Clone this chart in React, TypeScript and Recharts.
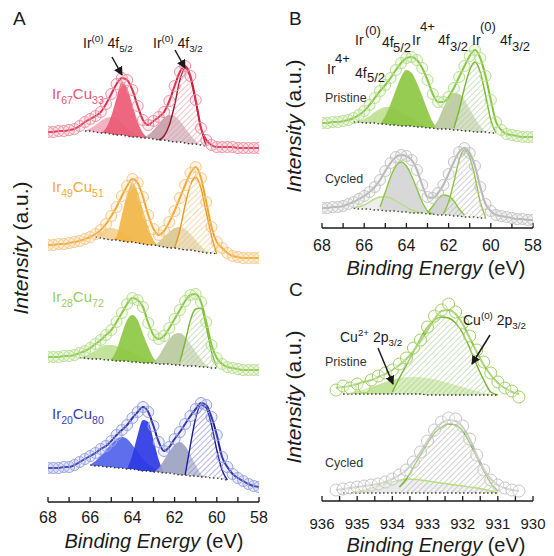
import React from "react";
import { Area, ComposedChart, Line, XAxis, YAxis } from "recharts";

const FONT = "'Liberation Sans', Arial, Helvetica, sans-serif";
const INK = "#1a1a1a";

// sampling of the measured spectra (binding energy, eV)
const IR_E = Array.from({ length: 41 }, (_, i) => 68 - i * 0.25);
const CU_E = Array.from({ length: 27 }, (_, i) => Math.round((935.6 - i * 0.2) * 10) / 10);
const IR_TICKS = [68, 67, 66, 65, 64, 63, 62, 61, 60, 59, 58];
const CU_TICKS = [936, 935.5, 935, 934.5, 934, 933.5, 933, 932.5, 932, 931.5, 931, 930.5, 930];

type Pair = [number, number];

// ---- panel A: Ir67Cu33 ----
const A1_COUNTS = [18, 18, 19, 19, 20, 21, 24, 28, 31, 34, 38, 46, 56, 66, 72, 70, 60, 44, 30, 25, 29, 33, 38, 49, 64, 78, 84, 74, 50, 22, 10, 5, 3, 3, 3, 3, 2, 2, 2, 2, 2];
const A1_BG = [19, 19, 18, 17, 17, 16, 15, 15, 14, 13, 13, 12, 12, 11, 10, 10, 9, 8, 8, 7, 6, 6, 5, 4]; // 66.25 -> 60.5
const A1_IR4_52: Pair[] = [[66.25, 19], [65.75, 25], [65.5, 29], [65.25, 32], [65, 33], [64.75, 31], [64.5, 27], [64.25, 22], [64, 17], [63.75, 14], [63.5, 12]];
const A1_IR0_52: Pair[] = [[65.5, 17], [65.25, 22], [65, 34], [64.75, 52], [64.5, 68], [64.25, 62], [64, 45], [63.75, 28], [63.5, 17], [63.25, 12]];
const A1_IR4_32: Pair[] = [[63.5, 12], [63.25, 15], [63, 20], [62.75, 26], [62.5, 32], [62.25, 35], [62, 34], [61.75, 29], [61.5, 22], [61.25, 15], [61, 9], [60.75, 5]];
const A1_IR0_32: Pair[] = [[62.75, 10], [62.5, 14], [62.25, 25], [62, 45], [61.75, 70], [61.5, 82], [61.25, 72], [61, 48], [60.75, 22], [60.5, 4]];

// ---- panel A: Ir49Cu51 ----
const A2_COUNTS = [15, 15, 16, 16, 17, 18, 19, 21, 23, 26, 30, 36, 44, 53, 64, 74, 81, 77, 63, 45, 31, 25, 29, 38, 49, 62, 75, 87, 93, 82, 58, 33, 18, 12, 7, 4, 3, 2, 2, 2, 2];
const A2_BG = [23, 22, 21, 20, 20, 19, 18, 18, 17, 16, 15, 15, 14, 13, 12, 12, 11, 10, 10, 9, 8, 7, 7, 6]; // 65.75 -> 60
const A2_IR4_52: Pair[] = [[65.75, 23], [65.5, 28], [65.25, 31], [65, 32], [64.75, 31], [64.5, 28], [64.25, 25], [64, 22], [63.75, 19], [63.5, 16]];
const A2_IR0_52: Pair[] = [[65, 20], [64.75, 24], [64.5, 45], [64.25, 66], [64, 77], [63.75, 68], [63.5, 50], [63.25, 33], [63, 20], [62.75, 14]];
const A2_IR4_32: Pair[] = [[63, 15], [62.75, 18], [62.5, 23], [62.25, 28], [62, 32], [61.75, 33], [61.5, 31], [61.25, 26], [61, 20], [60.75, 14], [60.5, 9], [60.25, 7]];
const A2_IR0_32: Pair[] = [[62, 12], [61.75, 30], [61.5, 55], [61.25, 75], [61, 83], [60.75, 72], [60.5, 48], [60.25, 24], [60, 6]];

// ---- panel A: Ir28Cu72 ----
const A3_COUNTS = [15, 15, 15, 16, 16, 17, 19, 21, 24, 28, 32, 37, 42, 50, 59, 68, 74, 72, 65, 49, 37, 33, 36, 44, 53, 62, 71, 77, 78, 70, 50, 27, 14, 8, 5, 4, 3, 2, 2, 2, 2];
const A3_BG = [14, 14, 13, 13, 13, 12, 12, 11, 11, 11, 10, 10, 9, 9, 9, 8, 8, 8, 7, 7, 6, 6, 6, 5, 5, 4, 4]; // 66.5 -> 60
const A3_IR4_52: Pair[] = [[66.5, 14], [66, 18], [65.75, 21], [65.5, 25], [65.25, 27], [65, 27], [64.75, 26], [64.5, 24], [64.25, 22], [64, 20], [63.75, 17], [63.5, 14], [63.25, 12], [63, 9]];
const A3_IR0_52: Pair[] = [[65, 13], [64.75, 22], [64.5, 38], [64.25, 52], [64, 57], [63.75, 52], [63.5, 38], [63.25, 25], [63, 14], [62.75, 9]];
const A3_IR4_32: Pair[] = [[63, 10], [62.75, 16], [62.5, 25], [62.25, 33], [62, 38], [61.75, 39], [61.5, 35], [61.25, 28], [61, 20], [60.75, 13], [60.5, 7], [60.25, 4]];
const A3_IR0_32: Pair[] = [[61.75, 10], [61.5, 30], [61.25, 52], [61, 63], [60.75, 64], [60.5, 45], [60.25, 20], [60, 5]];

// ---- panel A: Ir20Cu80 ----
const A4_COUNTS = [22, 22, 22, 23, 23, 25, 28, 31, 34, 37, 41, 44, 49, 55, 60, 65, 72, 78, 83, 78, 64, 48, 39, 43, 51, 58, 66, 74, 81, 87, 85, 73, 55, 33, 23, 16, 12, 9, 6, 4, 3];
const A4_BG = [25, 24, 24, 23, 23, 22, 22, 21, 21, 20, 19, 19, 18, 18, 17, 17, 16, 15, 15, 14, 14, 13, 13, 12, 12, 11, 10]; // 66 -> 59.5
const A4_IR4_52: Pair[] = [[66, 25], [65.75, 29], [65.5, 34], [65.25, 40], [65, 46], [64.75, 51], [64.5, 53], [64.25, 51], [64, 45], [63.75, 38], [63.5, 31], [63.25, 26], [63, 22], [62.75, 19]];
const A4_IR0_52: Pair[] = [[64.25, 21], [64, 35], [63.75, 55], [63.5, 70], [63.25, 68], [63, 50], [62.75, 30], [62.5, 18]];
const A4_IR4_32: Pair[] = [[63, 18], [62.75, 22], [62.5, 30], [62.25, 38], [62, 45], [61.75, 48], [61.5, 44], [61.25, 35], [61, 25], [60.75, 16], [60.5, 13]];
const A4_IR0_32: Pair[] = [[61.5, 15], [61.25, 45], [61, 72], [60.75, 85], [60.5, 82], [60.25, 65], [60, 40], [59.75, 20], [59.5, 10]];

// ---- panel B: Ir 4f pristine / cycled ----
const B1_COUNTS = [17, 17, 18, 18, 19, 20, 22, 25, 29, 35, 42, 49, 55, 62, 70, 77, 82, 83, 80, 72, 60, 46, 38, 38, 43, 52, 63, 74, 84, 90, 82, 64, 40, 18, 10, 6, 5, 4, 3, 3, 3];
const B1_BG = [18, 18, 17, 17, 17, 16, 16, 15, 15, 14, 14, 14, 13, 13, 12, 12, 11, 11, 11, 10, 10, 9, 9, 8, 8, 8, 7, 7]; // 66.5 -> 59.75
const B1_IR4_52: Pair[] = [[66.5, 18], [66, 21], [65.75, 24], [65.5, 28], [65.25, 31], [65, 33], [64.75, 33], [64.5, 31], [64.25, 28], [64, 25], [63.75, 22], [63.5, 19], [63.25, 16], [63, 13], [62.75, 12]];
const B1_IR0_52: Pair[] = [[65.25, 16], [65, 24], [64.75, 36], [64.5, 50], [64.25, 63], [64, 70], [63.75, 67], [63.5, 57], [63.25, 44], [63, 30], [62.75, 18], [62.5, 11]];
const B1_IR4_32: Pair[] = [[62.75, 12], [62.5, 20], [62.25, 32], [62, 42], [61.75, 47], [61.5, 46], [61.25, 40], [61, 31], [60.75, 22], [60.5, 14], [60.25, 8]];
const B1_IR0_32: Pair[] = [[61.75, 12], [61.5, 30], [61.25, 52], [61, 70], [60.75, 78], [60.5, 68], [60.25, 45], [60, 20], [59.75, 7]];

const B2_COUNTS = [14, 14, 15, 15, 16, 18, 20, 23, 26, 30, 35, 42, 51, 59, 65, 67, 66, 62, 52, 37, 25, 24, 29, 37, 48, 60, 70, 74, 69, 56, 35, 18, 11, 7, 6, 5, 4, 3, 3, 2, 2];
const B2_BG = [14, 13, 13, 13, 12, 12, 11, 11, 11, 10, 10, 9, 9, 9, 8, 8, 7, 7, 7, 6, 6, 5, 5, 5, 4, 4]; // 66.5 -> 60.25
const B2_IR4_52: Pair[] = [[66.5, 14], [66, 17], [65.75, 20], [65.5, 23], [65.25, 25], [65, 25], [64.75, 24], [64.5, 21], [64.25, 18], [64, 15], [63.75, 12], [63.5, 10], [63.25, 9]];
const B2_IR0_52: Pair[] = [[65.25, 15], [65, 30], [64.75, 45], [64.5, 56], [64.25, 60], [64, 56], [63.75, 46], [63.5, 33], [63.25, 20], [63, 11], [62.75, 8]];
const B2_IR4_32: Pair[] = [[63, 9], [62.75, 16], [62.5, 23], [62.25, 27], [62, 26], [61.75, 21], [61.5, 13], [61.25, 7]];
const B2_IR0_32: Pair[] = [[62.25, 8], [62, 20], [61.75, 40], [61.5, 62], [61.25, 72], [61, 65], [60.75, 45], [60.5, 20], [60.25, 5]];

// ---- panel C: Cu 2p3/2 pristine / cycled ----
const C1_COUNTS = [10, 14, 12, 16, 13, 20, 24, 27, 30, 36, 42, 52, 60, 73, 84, 90, 96, 88, 77, 64, 50, 38, 27, 18, 12, 9, 3];
const C1_FIT = [12, 13, 14, 16, 18, 20, 23, 26, 30, 35, 41, 49, 59, 70, 81, 89, 90, 86, 76, 62, 48, 35, 25, 17, 12, 8, 6];
const C1_BG = [6, 6, 6, 6, 6, 6, 6, 6, 6, 6, 6, 6, 5, 5, 5, 5, 5, 5, 5, 5, 5, 5, 5]; // 935.4 -> 931
const C1_CU2: Pair[] = [[935.4, 6], [935, 9], [934.6, 13], [934.2, 18], [933.8, 22], [933.4, 23], [933, 22], [932.6, 19], [932.2, 15], [931.8, 11], [931.4, 7], [931, 5]];
const C1_CU0: Pair[] = [[934, 8], [933.8, 22], [933.6, 35], [933.4, 48], [933.2, 62], [933, 73], [932.8, 80], [932.6, 83], [932.4, 82], [932.2, 77], [932, 67], [931.8, 52], [931.6, 35], [931.4, 20], [931.2, 8], [931, 5]];

const C2_COUNTS = [5, 6, 7, 8, 9, 10, 11, 13, 16, 20, 25, 33, 43, 54, 65, 73, 77, 76, 69, 56, 40, 25, 15, 10, 7, 5, 4];
const C2_FIT = [5, 6, 7, 8, 9, 10, 11, 13, 16, 20, 25, 33, 43, 54, 65, 72, 75, 74, 68, 56, 40, 26, 16, 10, 7, 5, 4];
const C2_BG = [2, 2, 2, 2, 2, 2, 2, 2, 2, 2, 2, 2, 2, 2, 2, 2, 2, 2, 2, 2, 2, 2, 2]; // 935.4 -> 931
const C2_CU2: Pair[] = [[935.2, 2], [934.8, 5], [934.4, 9], [934, 13], [933.6, 16], [933.2, 15], [932.8, 13], [932.4, 11], [932, 9], [931.6, 7], [931.2, 4], [931, 2]];
const C2_CU0: Pair[] = [[933.8, 8], [933.6, 16], [933.4, 28], [933.2, 40], [933, 52], [932.8, 62], [932.6, 68], [932.4, 71], [932.2, 70], [932, 64], [931.8, 52], [931.6, 38], [931.4, 24], [931.2, 12], [931, 4]];

interface Comp {
  pts: Pair[];
  fill: string;
  opacity?: number;
  outline?: string;
}

interface Spec {
  e: number[];
  counts: number[];
  fit?: number[];
  bgFrom: number;
  bgStep: number;
  bg: number[];
  comps: Comp[];
  off: number;
  dot: string;
  dotFill: string;
  r: number;
  line: string;
  bgColor: string;
}

const r2 = (n: number) => Math.round(n * 100) / 100;

function seriesFor(s: Spec, key: string) {
  const bg = s.bg.map((v, i) => ({ e: r2(s.bgFrom - i * s.bgStep), v: v + s.off }));
  const bgAt = (e: number) =>
    bg.reduce((b, p) => (Math.abs(p.e - e) < Math.abs(b.e - e) ? p : b)).v;
  const items: React.ReactElement[] = [];
  s.comps.forEach((c, k) => {
    const data = c.pts.map(([e, top]) => ({ e, v: top + s.off, range: [bgAt(e), top + s.off] }));
    items.push(
      <Area
        key={`${key}-a${k}`}
        data={data}
        dataKey="range"
        type="monotone"
        fill={c.fill}
        fillOpacity={c.opacity ?? 0.9}
        stroke="none"
        activeDot={false}
        isAnimationActive={false}
      />
    );
    if (c.outline) {
      items.push(
        <Line
          key={`${key}-o${k}`}
          data={data}
          dataKey="v"
          type="monotone"
          stroke={c.outline}
          strokeWidth={1.4}
          dot={false}
          activeDot={false}
          isAnimationActive={false}
        />
      );
    }
  });
  items.push(
    <Line
      key={`${key}-bg`}
      data={bg}
      dataKey="v"
      type="linear"
      stroke={s.bgColor}
      strokeWidth={1.3}
      strokeDasharray="1.5 2.5"
      dot={false}
      activeDot={false}
      isAnimationActive={false}
    />
  );
  const pts = s.counts.map((v, i) => ({ e: s.e[i], v: v + s.off }));
  items.push(
    <Line
      key={`${key}-pts`}
      data={pts}
      dataKey="v"
      stroke="none"
      dot={{ r: s.r, stroke: s.dot, strokeWidth: 1, fill: s.dotFill }}
      activeDot={false}
      isAnimationActive={false}
    />
  );
  const fit = (s.fit ?? s.counts).map((v, i) => ({ e: s.e[i], v: v + s.off }));
  items.push(
    <Line
      key={`${key}-fit`}
      data={fit}
      dataKey="v"
      type="monotone"
      stroke={s.line}
      strokeWidth={2}
      dot={false}
      activeDot={false}
      isAnimationActive={false}
    />
  );
  return items;
}

const irSpec = (
  counts: number[],
  bgFrom: number,
  bg: number[],
  comps: Pair[][],
  off: number,
  col: { dot: string; dotFill: string; line: string; fills: string[]; hatch: string; outline: string }
): Spec => ({
  e: IR_E,
  counts,
  bgFrom,
  bgStep: 0.25,
  bg,
  off,
  r: 5.5,
  dot: col.dot,
  dotFill: col.dotFill,
  line: col.line,
  bgColor: "#333",
  comps: [
    { pts: comps[0], fill: col.fills[0], opacity: 0.95 },
    { pts: comps[1], fill: col.fills[1], opacity: 0.92 },
    { pts: comps[2], fill: col.fills[2], opacity: 0.9 },
    { pts: comps[3], fill: col.hatch, opacity: 1, outline: col.outline },
  ],
});

const RED = { dot: "#ef93a4", dotFill: "rgba(244,160,178,0.18)", line: "#d11f3e", fills: ["#f4aebd", "#ea5a74", "#c49ca7"], hatch: "url(#hatchRed)", outline: "#a3142c" };
const ORANGE = { dot: "#f7c98a", dotFill: "rgba(248,200,130,0.18)", line: "#f0a52a", fills: ["#f5d398", "#f2b545", "#d8c78f"], hatch: "url(#hatchOrange)", outline: "#eb9a1c" };
const GREEN = { dot: "#b9df94", dotFill: "rgba(190,225,150,0.18)", line: "#82c235", fills: ["#c0e297", "#8dc843", "#b9c99e"], hatch: "url(#hatchGreen)", outline: "#79b82f" };
const BLUE = { dot: "#9aa2e6", dotFill: "rgba(160,168,232,0.2)", line: "#1c1c9a", fills: ["#5566ec", "#2b3ae4", "#9aa0bf"], hatch: "url(#hatchBlue)", outline: "#1c1c9a" };

const PANEL_A: Spec[] = [
  irSpec(A1_COUNTS, 66.25, A1_BG, [A1_IR4_52, A1_IR0_52, A1_IR4_32, A1_IR0_32], 352, RED),
  irSpec(A2_COUNTS, 65.75, A2_BG, [A2_IR4_52, A2_IR0_52, A2_IR4_32, A2_IR0_32], 242, ORANGE),
  irSpec(A3_COUNTS, 66.5, A3_BG, [A3_IR4_52, A3_IR0_52, A3_IR4_32, A3_IR0_32], 130, GREEN),
  irSpec(A4_COUNTS, 66, A4_BG, [A4_IR4_52, A4_IR0_52, A4_IR4_32, A4_IR0_32], 12, BLUE),
];

const GL = "#8cc63f";
const PANEL_B: Spec[] = [
  irSpec(B1_COUNTS, 66.5, B1_BG, [B1_IR4_52, B1_IR0_52, B1_IR4_32, B1_IR0_32], 88, GREEN),
  {
    e: IR_E,
    counts: B2_COUNTS,
    bgFrom: 66.5,
    bgStep: 0.25,
    bg: B2_BG,
    off: 6,
    r: 5.5,
    dot: "#c6c6c6",
    dotFill: "rgba(200,200,200,0.15)",
    line: "#b5b5b5",
    bgColor: "#3d4a30",
    comps: [
      { pts: B2_IR4_52, fill: "#ececec", opacity: 0.9, outline: "#b6dd86" },
      { pts: B2_IR0_52, fill: "#d4d4d4", opacity: 0.9, outline: GL },
      { pts: B2_IR4_32, fill: "#cfcfcf", opacity: 0.9, outline: GL },
      { pts: B2_IR0_32, fill: "url(#hatchGray)", opacity: 1, outline: GL },
    ],
  },
];

const PANEL_C: Spec[] = [
  {
    e: CU_E,
    counts: C1_COUNTS,
    fit: C1_FIT,
    bgFrom: 935.4,
    bgStep: 0.2,
    bg: C1_BG,
    off: 101,
    r: 6,
    dot: "#9fd162",
    dotFill: "rgba(255,255,255,0.3)",
    line: "#86c43a",
    bgColor: "#333",
    comps: [
      { pts: C1_CU2, fill: "#c2e396", opacity: 0.95 },
      { pts: C1_CU0, fill: "url(#hatchGreen)", opacity: 1, outline: "#76b52c" },
    ],
  },
  {
    e: CU_E,
    counts: C2_COUNTS,
    fit: C2_FIT,
    bgFrom: 935.4,
    bgStep: 0.2,
    bg: C2_BG,
    off: 6,
    r: 6,
    dot: "#c6c6c6",
    dotFill: "rgba(255,255,255,0.3)",
    line: "#b8b8b8",
    bgColor: "#333",
    comps: [
      { pts: C2_CU2, fill: "#e6e6e6", opacity: 0.9, outline: "#b6e07a" },
      { pts: C2_CU0, fill: "url(#hatchGray)", opacity: 1, outline: "#7cb82f" },
    ],
  },
];

interface PanelProps {
  left: number;
  top: number;
  width: number;
  height: number;
  margin: { top: number; right: number; bottom: number; left: number };
  domain: [number, number];
  ticks: number[];
  isLabel: (v: number) => boolean;
  axisH: number;
  tickMargin: number;
  tickFont: number;
  yMax: number;
  specs: Spec[];
  name: string;
}

function Panel(p: PanelProps) {
  const axisLine = { stroke: INK, strokeWidth: 1.6 };
  const tickLine = { stroke: INK, strokeWidth: 1.3 };
  return (
    <div style={{ position: "absolute", left: p.left, top: p.top }}>
      <ComposedChart width={p.width} height={p.height} margin={p.margin}>
        <XAxis
          type="number"
          dataKey="e"
          domain={p.domain}
          reversed
          allowDataOverflow
          ticks={p.ticks}
          interval={0}
          tickFormatter={(v: number) => (p.isLabel(v) ? String(v) : "")}
          tickSize={-5}
          tickMargin={p.tickMargin}
          height={p.axisH}
          axisLine={axisLine}
          tickLine={tickLine}
          tick={{ fill: INK, fontSize: p.tickFont, fontFamily: FONT }}
        />
        <XAxis
          xAxisId="t"
          orientation="top"
          type="number"
          domain={p.domain}
          reversed
          allowDataOverflow
          ticks={p.ticks}
          interval={0}
          tickFormatter={() => ""}
          tickSize={-5}
          height={0}
          axisLine={axisLine}
          tickLine={tickLine}
        />
        <YAxis type="number" domain={[0, p.yMax]} allowDataOverflow width={0} tick={false} tickLine={false} axisLine={axisLine} />
        <YAxis
          yAxisId="r"
          orientation="right"
          type="number"
          domain={[0, p.yMax]}
          width={0}
          tick={false}
          tickLine={false}
          axisLine={axisLine}
        />
        {p.specs.flatMap((s, i) => seriesFor(s, `${p.name}${i}`))}
      </ComposedChart>
    </div>
  );
}

type Part = [string, "n" | "sub" | "sup"];

function Rich({ x, y, size, fill = INK, parts }: { x: number; y: number; size: number; fill?: string; parts: Part[] }) {
  let shift = 0;
  return (
    <text x={x} y={y} fontSize={size} fill={fill} fontFamily={FONT}>
      {parts.map(([s, k], i) => {
        const target = k === "sub" ? size * 0.3 : k === "sup" ? -size * 0.45 : 0;
        const dy = target - shift;
        shift = target;
        return (
          <tspan key={i} dy={dy} fontSize={k === "n" ? size : size * 0.7}>
            {s}
          </tspan>
        );
      })}
    </text>
  );
}

function Plain({ x, y, size, children, fill = INK }: { x: number; y: number; size: number; children: React.ReactNode; fill?: string }) {
  return (
    <text x={x} y={y} fontSize={size} fill={fill} fontFamily={FONT}>
      {children}
    </text>
  );
}

function AxisTitle({ x, y }: { x: number; y: number }) {
  return (
    <text x={x} y={y} fontSize={20} fill={INK} fontFamily={FONT} textAnchor="middle">
      <tspan fontStyle="italic">Binding Energy</tspan> (eV)
    </text>
  );
}

function YTitle({ x, y }: { x: number; y: number }) {
  return (
    <text transform={`translate(${x},${y}) rotate(-90)`} fontSize={21} fill={INK} fontFamily={FONT} textAnchor="middle">
      <tspan fontStyle="italic">Intensity</tspan> (a.u.)
    </text>
  );
}

function Arrow({ x1, y1, x2, y2 }: { x1: number; y1: number; x2: number; y2: number }) {
  return <line x1={x1} y1={y1} x2={x2} y2={y2} stroke={INK} strokeWidth={1.5} markerEnd="url(#arrowHead)" />;
}

function Hatch({ id, color }: { id: string; color: string }) {
  return (
    <pattern id={id} patternUnits="userSpaceOnUse" width={4} height={4} patternTransform="rotate(45)">
      <rect width={4} height={4} fill="rgba(255,255,255,0.35)" />
      <line x1={0} y1={0} x2={0} y2={4} stroke={color} strokeWidth={1.1} />
    </pattern>
  );
}

export default function App() {
  const even = (v: number) => v % 2 === 0;
  const whole = (v: number) => Number.isInteger(v);
  return (
    <div style={{ position: "absolute", left: 0, top: 0, width: 554, height: 556, background: "#fff", overflow: "hidden" }}>
      <svg width={0} height={0} style={{ position: "absolute" }}>
        <defs>
          <Hatch id="hatchRed" color="#e3909f" />
          <Hatch id="hatchOrange" color="#efbd6a" />
          <Hatch id="hatchGreen" color="#a3c98a" />
          <Hatch id="hatchBlue" color="#7076c6" />
          <Hatch id="hatchGray" color="#a9a9a9" />
          <marker id="arrowHead" markerUnits="userSpaceOnUse" markerWidth={9} markerHeight={9} refX={8} refY={4.5} orient="auto">
            <path d="M0,0 L9,4.5 L0,9 z" fill={INK} />
          </marker>
        </defs>
      </svg>

      <Panel
        name="a"
        left={0}
        top={0}
        width={270}
        height={556}
        margin={{ top: 18, right: 11, bottom: 0, left: 48 }}
        domain={[58, 68]}
        ticks={IR_TICKS}
        isLabel={even}
        axisH={54}
        tickMargin={15}
        tickFont={16}
        yMax={484}
        specs={PANEL_A}
      />
      <Panel
        name="b"
        left={300}
        top={0}
        width={254}
        height={260}
        margin={{ top: 17, right: 21, bottom: 0, left: 22 }}
        domain={[58, 68]}
        ticks={IR_TICKS}
        isLabel={even}
        axisH={32}
        tickMargin={17}
        tickFont={16}
        yMax={211}
        specs={PANEL_B}
      />
      <Panel
        name="c"
        left={300}
        top={270}
        width={254}
        height={286}
        margin={{ top: 23, right: 21, bottom: 0, left: 22 }}
        domain={[930, 936]}
        ticks={CU_TICKS}
        isLabel={whole}
        axisH={55}
        tickMargin={22}
        tickFont={15}
        yMax={208}
        specs={PANEL_C}
      />

      <svg width={554} height={556} style={{ position: "absolute", left: 0, top: 0, pointerEvents: "none" }}>
        <Plain x={13} y={25} size={19}>A</Plain>
        <Plain x={289} y={25} size={19}>B</Plain>
        <Plain x={289} y={296} size={19}>C</Plain>

        <YTitle x={28} y={248} />
        <YTitle x={301} y={126} />
        <YTitle x={301} y={397} />
        <AxisTitle x={154} y={548} />
        <AxisTitle x={436} y={275} />
        <AxisTitle x={436} y={552} />

        <Rich x={52} y={99} size={15} fill="#ec5570" parts={[["Ir", "n"], ["67", "sub"], ["Cu", "n"], ["33", "sub"]]} />
        <Rich x={52} y={192} size={15} fill="#f2a93b" parts={[["Ir", "n"], ["49", "sub"], ["Cu", "n"], ["51", "sub"]]} />
        <Rich x={52} y={302} size={15} fill="#9acd57" parts={[["Ir", "n"], ["28", "sub"], ["Cu", "n"], ["72", "sub"]]} />
        <Rich x={52} y={419} size={15} fill="#3c3cb4" parts={[["Ir", "n"], ["20", "sub"], ["Cu", "n"], ["80", "sub"]]} />

        <Rich x={83} y={48} size={14} parts={[["Ir", "n"], ["(0)", "sup"], [" 4f", "n"], ["5/2", "sub"]]} />
        <Rich x={153} y={48} size={14} parts={[["Ir", "n"], ["(0)", "sup"], [" 4f", "n"], ["3/2", "sub"]]} />
        <Arrow x1={112} y1={57} x2={122} y2={75} />
        <Arrow x1={175} y1={50} x2={185} y2={68} />

        <Plain x={327} y={74} size={14}>Ir</Plain>
        <Plain x={335} y={63} size={13}>4+</Plain>
        <Plain x={355} y={78} size={14}>4f</Plain>
        <Plain x={367} y={82} size={13}>5/2</Plain>
        <Plain x={355} y={45} size={14}>Ir</Plain>
        <Plain x={365} y={35} size={13}>(0)</Plain>
        <Plain x={382} y={47} size={14}>4f</Plain>
        <Plain x={393} y={52} size={13}>5/2</Plain>
        <Plain x={412} y={45} size={14}>Ir</Plain>
        <Plain x={420} y={31} size={13}>4+</Plain>
        <Plain x={438} y={45} size={14}>4f</Plain>
        <Plain x={450} y={51} size={13}>3/2</Plain>
        <Plain x={472} y={45} size={14}>Ir</Plain>
        <Plain x={480} y={31} size={13}>(0)</Plain>
        <Plain x={500} y={45} size={14}>4f</Plain>
        <Plain x={512} y={51} size={13}>3/2</Plain>
        <Plain x={325} y={102} size={12.5} fill="#333">Pristine</Plain>
        <Plain x={325} y={183} size={12.5} fill="#333">Cycled</Plain>

        <Rich x={340} y={342} size={14} parts={[["Cu", "n"], ["2+", "sup"], [" 2p", "n"], ["3/2", "sub"]]} />
        <Rich x={463} y={325} size={14} parts={[["Cu", "n"], ["(0)", "sup"], [" 2p", "n"], ["3/2", "sub"]]} />
        <Arrow x1={378} y1={348} x2={393} y2={384} />
        <Arrow x1={490} y1={335} x2={472} y2={364} />
        <Plain x={325} y={366} size={12.5} fill="#333">Pristine</Plain>
        <Plain x={325} y={467} size={12.5} fill="#333">Cycled</Plain>
      </svg>
    </div>
  );
}
